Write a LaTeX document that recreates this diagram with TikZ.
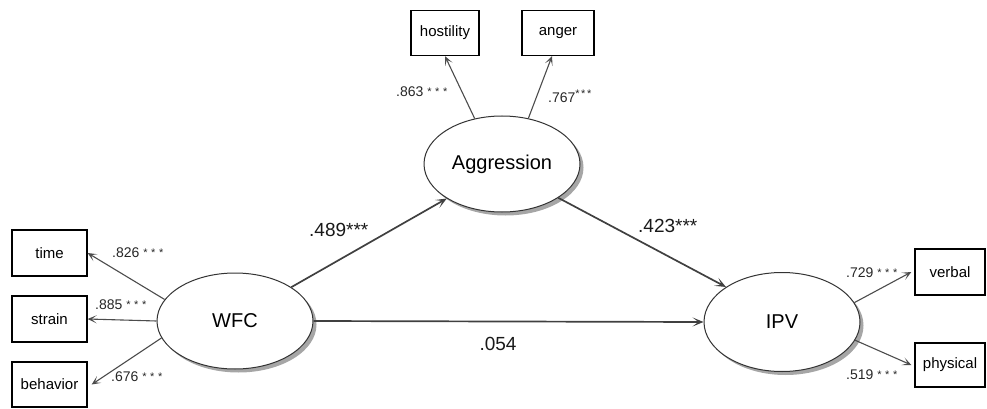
\documentclass[tikz,border=0pt]{standalone}
\usepackage{fontspec}
\setmainfont{Liberation Sans}
\usetikzlibrary{shapes.geometric,arrows.meta,shadows}
\begin{document}
\begin{tikzpicture}[x=1pt,y=-1pt,
  latent/.style={ellipse,draw=black!80,line width=1pt,fill=white,minimum width=156pt,minimum height=96pt,inner sep=0pt,
    font=\fontsize{20}{21}\selectfont,
    drop shadow={shadow xshift=3.5pt,shadow yshift=-3.5pt,fill=black!35,opacity=1}},
  obs/.style={rectangle,draw=black,line width=1.3pt,fill=white,minimum width=72pt,minimum height=45pt,inner sep=0pt,font=\fontsize{15}{16}\selectfont},
  load/.style={draw=black!70,line width=1.1pt,-{Stealth[length=9pt,width=8pt,inset=5pt]}},
  mainpath/.style={draw=black!75,line width=1.7pt,-{Stealth[length=11pt,width=9pt,inset=6pt]}},
  lbl/.style={anchor=west,inner sep=0pt,font=\fontsize{14}{15}\selectfont,text=black!85},
  plbl/.style={inner sep=0pt,font=\fontsize{19}{20}\selectfont,text=black!90},
]
\newcommand{\sstars}{\hspace{4pt}{\fontsize{11}{11}\selectfont\raisebox{1.5pt}{*\hspace{3.5pt}*\hspace{3.5pt}*}}}
\newcommand{\hstars}{{\fontsize{11}{11}\selectfont\raisebox{5pt}{*\hspace{1.5pt}*\hspace{1.5pt}*}}}
\useasboundingbox (0,0) rectangle (987,409);

\node[latent] (wfc) at (235,321) {WFC};
\node[latent] (agg) at (502,164) {Aggression};
\node[latent,minimum height=99pt] (ipv) at (782,322) {IPV};

\node[obs,minimum width=68pt] (hos) at (445,33) {hostility};
\node[obs] (ang) at (558,33) {anger};
\node[obs,minimum width=75pt,minimum height=46pt] (time) at (49.5,253) {time};
\node[obs,minimum width=75pt,minimum height=46pt] (strain) at (49.5,319) {strain};
\node[obs,minimum width=75pt,minimum height=45pt] (beh) at (49.5,384.5) {behavior};
\node[obs,minimum width=70pt,minimum height=46pt] (verb) at (950,272) {verbal};
\node[obs,minimum width=70pt,minimum height=44pt] (phys) at (950,365) {physical};

\draw[load] (agg.121.5) -- (hos.south);
\draw[load] (agg.60.4) -- ([xshift=-6pt]ang.south);
\draw[load] (wfc.163.3) -- (time.east);
\draw[load] (wfc.west) -- (strain.east);
\draw[load] (wfc.193.5) -- ([xshift=4pt]beh.east);
\draw[load] (ipv.15.3) -- ([xshift=-3pt]verb.west);
\draw[load] (ipv.346.7) -- ([xshift=-3pt]phys.west);

\draw[mainpath] (wfc.31) -- (agg.212.5);
\draw[mainpath] (agg.329.5) -- (ipv.148);
\draw[mainpath] (wfc.east) -- (ipv.west);

\node[lbl] (l1) at (396,92) {.863\sstars};
\node[lbl] (l2) at (548,96) {.767\hstars};
\node[lbl] (l3) at (112,253) {.826\sstars};
\node[lbl] (l4) at (95,305) {.885\sstars};
\node[lbl] (l5) at (111,377) {.676\sstars};
\node[lbl] (l6) at (846,273) {.729\sstars};
\node[lbl] (l7) at (846,375) {.519\sstars};

\node[plbl,anchor=west] (p1) at (309,230) {.489***};
\node[plbl,anchor=west] (p2) at (638,226) {.423***};
\node[plbl] (p3) at (498,344) {.054};
\end{tikzpicture}
\end{document}
